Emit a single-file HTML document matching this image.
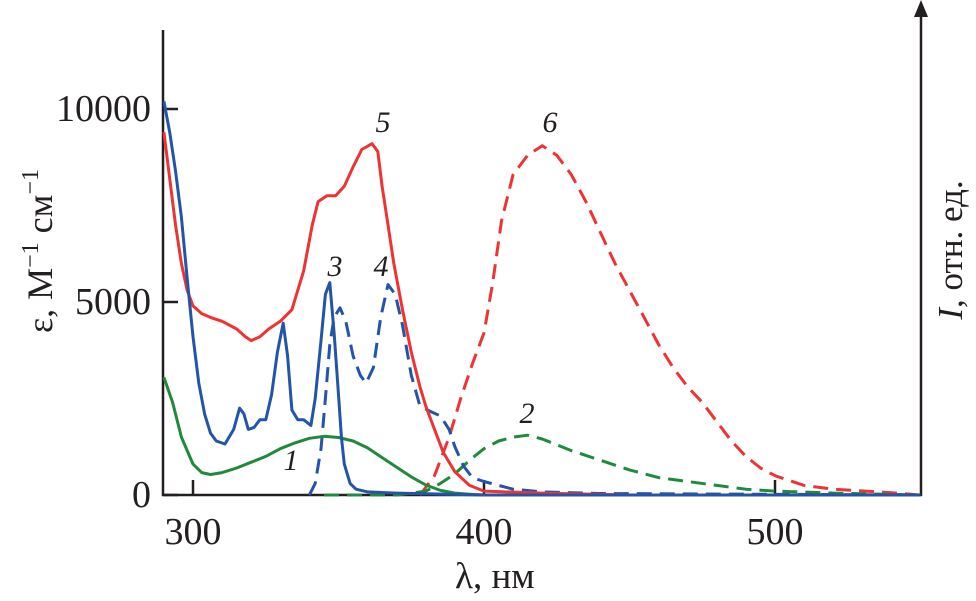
<!DOCTYPE html>
<html><head><meta charset="utf-8"><style>
html,body{margin:0;padding:0;background:#fff}
svg{display:block}
text{font-family:"Liberation Serif",serif;fill:#231f20}
</style></head><body>
<svg id="chart" width="976" height="601" viewBox="0 0 976 601">
<g id="axes"></g>
<g id="series"></g>
<g id="labels"></g>
<text x="455" y="588" font-size="37">λ, нм</text>
<text transform="translate(52,251) rotate(-90)" font-size="36" text-anchor="middle">ε, M<tspan font-size="24" dy="-14">−1</tspan><tspan dy="14"> см</tspan><tspan font-size="24" dy="-14">−1</tspan></text>
<text transform="translate(962,250) rotate(-90)" font-size="35" text-anchor="middle"><tspan font-style="italic">I</tspan>, отн. ед.</text>
</svg>
<script>
const xTicks=[300,400,500];
const yTicks=[0,5000,10000];
const c1x=[290,293,296,300,303,306,310,315,320,325,330,335,340,345,350,355,360,365,370,375,380,385,390,395,400,550];
const c1y=[3050,2400,1500,800,580,530,580,700,850,1000,1200,1350,1470,1520,1490,1400,1220,970,720,470,260,120,50,20,0,0];
const c3x=[290,292,294,296,298,300,302,304,306,308,311,314,316,317.5,319,321,323,325,327,329,331,332.5,334,336,338,340.5,342,344,345.5,347,348.5,350,351,352,354,356,360,370,400,550];
const c3y=[10200,9400,8400,7200,5600,4100,2900,2100,1600,1400,1320,1700,2250,2100,1700,1750,1950,1950,2600,3700,4450,3600,2200,1950,1950,1800,2500,4000,5200,5500,4200,2600,1500,800,300,150,80,50,0,0];
const c4x=[340,342,344,345.5,347,348.5,350.5,352.5,355,357.5,359.5,362,364.5,367,369.5,372,375,378,382,385,388,390,393,396,400,405,410,420,440,550];
const c4y=[0,300,1200,2500,3900,4600,4850,4500,3600,3100,2900,3300,4600,5450,5200,4400,3100,2300,2150,2050,1700,1250,750,450,350,250,150,80,40,0];
const c5x=[290,292,294,296,298,300,303,306,310,315,318,320,323,326,330,334,338,341,343,346,349,352,355,358,361.5,363.5,365,367,369,372,375,378,380,383,386,390,395,400,420,450,550];
const c5y=[9400,8200,7000,6000,5300,4900,4700,4600,4500,4300,4100,4000,4100,4300,4500,4800,5800,7000,7600,7750,7750,8000,8500,8950,9100,8900,8000,7000,6000,4800,3700,2800,2300,1700,1100,600,250,100,50,0,0];
const c6x=[378,383,388,392,396,400,403,406,410,415,420,425,430,435,440,445,450,455,460,465,470,475,480,485,490,495,500,510,520,540,550];
const c6y=[0,500,1500,2500,3400,4200,5500,7100,8300,8800,9050,8800,8300,7600,6800,6000,5300,4600,3900,3300,2800,2400,1900,1400,1000,700,500,250,150,60,0];
const c2x=[345,370,380,385,390,395,400,405,410,415,420,425,430,440,450,460,470,480,490,500,520,550];
const c2y=[0,0,100,300,550,900,1200,1400,1500,1550,1450,1300,1150,900,650,450,350,250,150,100,50,0];

const X=v=>163.9+(v-290)*2.91;
const Y=v=>495-v*0.0386;
const NS="http://www.w3.org/2000/svg";
function mk(tag,attrs,parent){const e=document.createElementNS(NS,tag);for(const k in attrs)e.setAttribute(k,attrs[k]);parent.appendChild(e);return e;}
const ax=document.getElementById('axes'),se=document.getElementById('series'),lb=document.getElementById('labels');

let e=mk('line',{x1:163,y1:30,x2:163,y2:496,stroke:'#231f20','stroke-width':2.5},ax);

e=mk('line',{x1:162,y1:495,x2:922,y2:495,stroke:'#231f20','stroke-width':2.5},ax);

e=mk('line',{x1:921,y1:12,x2:921,y2:496,stroke:'#231f20','stroke-width':2.5},ax);

e=mk('polygon',{points:'921,0 914,17 928,17',fill:'#231f20'},ax);

xTicks.forEach(t=>{
 let l=mk('line',{x1:X(t),y1:495,x2:X(t),y2:480,stroke:'#231f20','stroke-width':2.5},ax);
 
 let tx=mk('text',{x:X(t),y:544,'font-size':38,'text-anchor':'middle'},ax);tx.textContent=t;
 
});
yTicks.forEach(t=>{
 let l=mk('line',{x1:163,y1:Y(t),x2:178,y2:Y(t),stroke:'#231f20','stroke-width':2.5},ax);
 
 let tx=mk('text',{x:151,y:Y(t)+12,'font-size':38,'text-anchor':'end'},ax);tx.textContent=t;
 
});
function curve(xs,ys,color,dash,name){
 const d=xs.map((x,i)=>(i?'L':'M')+X(x).toFixed(1)+','+Y(ys[i]).toFixed(1)).join(' ');
 const p=mk('path',{d:d,fill:'none',stroke:color,'stroke-width':3,'stroke-linejoin':'round'},se);
 if(dash)p.setAttribute('stroke-dasharray','15 8');
 
 
}
curve(c6x,c6y,'#ee3333',true,'curve-6-emission');
curve(c2x,c2y,'#1f8a3c',true,'curve-2-emission');
curve(c4x,c4y,'#2255aa',true,'curve-4-emission');
curve(c5x,c5y,'#ee3333',false,'curve-5-absorption');
curve(c1x,c1y,'#1f8a3c',false,'curve-1-absorption');
curve(c3x,c3y,'#2255aa',false,'curve-3-absorption');
const labs=[['5',383,132],['3',335,276],['4',381,276],['6',550,132],['2',527,423],['1',291,470]];
labs.forEach(a=>{let t=mk('text',{x:a[1],y:a[2],'font-size':30,'font-style':'italic','text-anchor':'middle'},lb);t.textContent=a[0];
 });
</script>
</body></html>
